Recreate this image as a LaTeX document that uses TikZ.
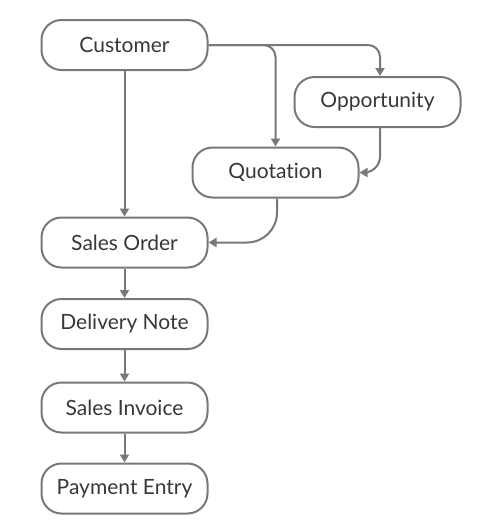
\documentclass[tikz,border=0pt]{standalone}
\usepackage{fontspec}
\setmainfont{Lato}[Ligatures={NoCommon,NoDiscretionary}]
\usepackage{xcolor}
\usepackage{tikz}
\usetikzlibrary{arrows.meta}

\begin{document}
\begin{tikzpicture}[x=1pt,y=-1pt]
	% 颜色列表
	\definecolor{linegray}{RGB}{120,120,120}
	\definecolor{textgray}{RGB}{55,55,55}
	\tikzset{
		doc/.style={draw=linegray, line width=2pt, rounded corners=20pt,
			minimum width=166pt, minimum height=50pt, inner sep=0pt,
			text=textgray, font=\fontsize{21}{25}\selectfont},
		flow/.style={draw=linegray, line width=2pt,
			-{Triangle[width=9pt,length=8pt]}}
	}
	\useasboundingbox (0,0) rectangle (499,531);
	
	% 节点
	\node[doc] (cust) at (124.5,45) {Customer};
	\node[doc] (opp) at (377.5,102) {Opportunity};
	\node[doc] (quot) at (275.5,172.5) {Quotation};
	\node[doc] (so) at (124.5,242.5) {Sales Order};
	\node[doc] (dn) at (124.5,324) {Delivery Note};
	\node[doc] (si) at (124.5,407.5) {Sales Invoice};
	\node[doc] (pe) at (124.5,488.5) {Payment Entry};
	
	% 左侧主线
	\draw[flow] (cust) -- (so);
	\foreach \a/\b in {so/dn,dn/si,si/pe}
	\draw[flow] (\a) -- (\b);
	
	% 右侧分支
	\draw[flow, rounded corners=12pt] (cust.east) -| (quot.north);
	\draw[flow, rounded corners=12pt] (cust.east) -| ([xshift=2.5pt]opp.north);
	\draw[flow, rounded corners=16pt] ([xshift=2.5pt]opp.south) |- (quot.east);
	\draw[flow, rounded corners=30pt] ([xshift=1.5pt]quot.south) |- (so.east);
	
\end{tikzpicture}
\end{document}
